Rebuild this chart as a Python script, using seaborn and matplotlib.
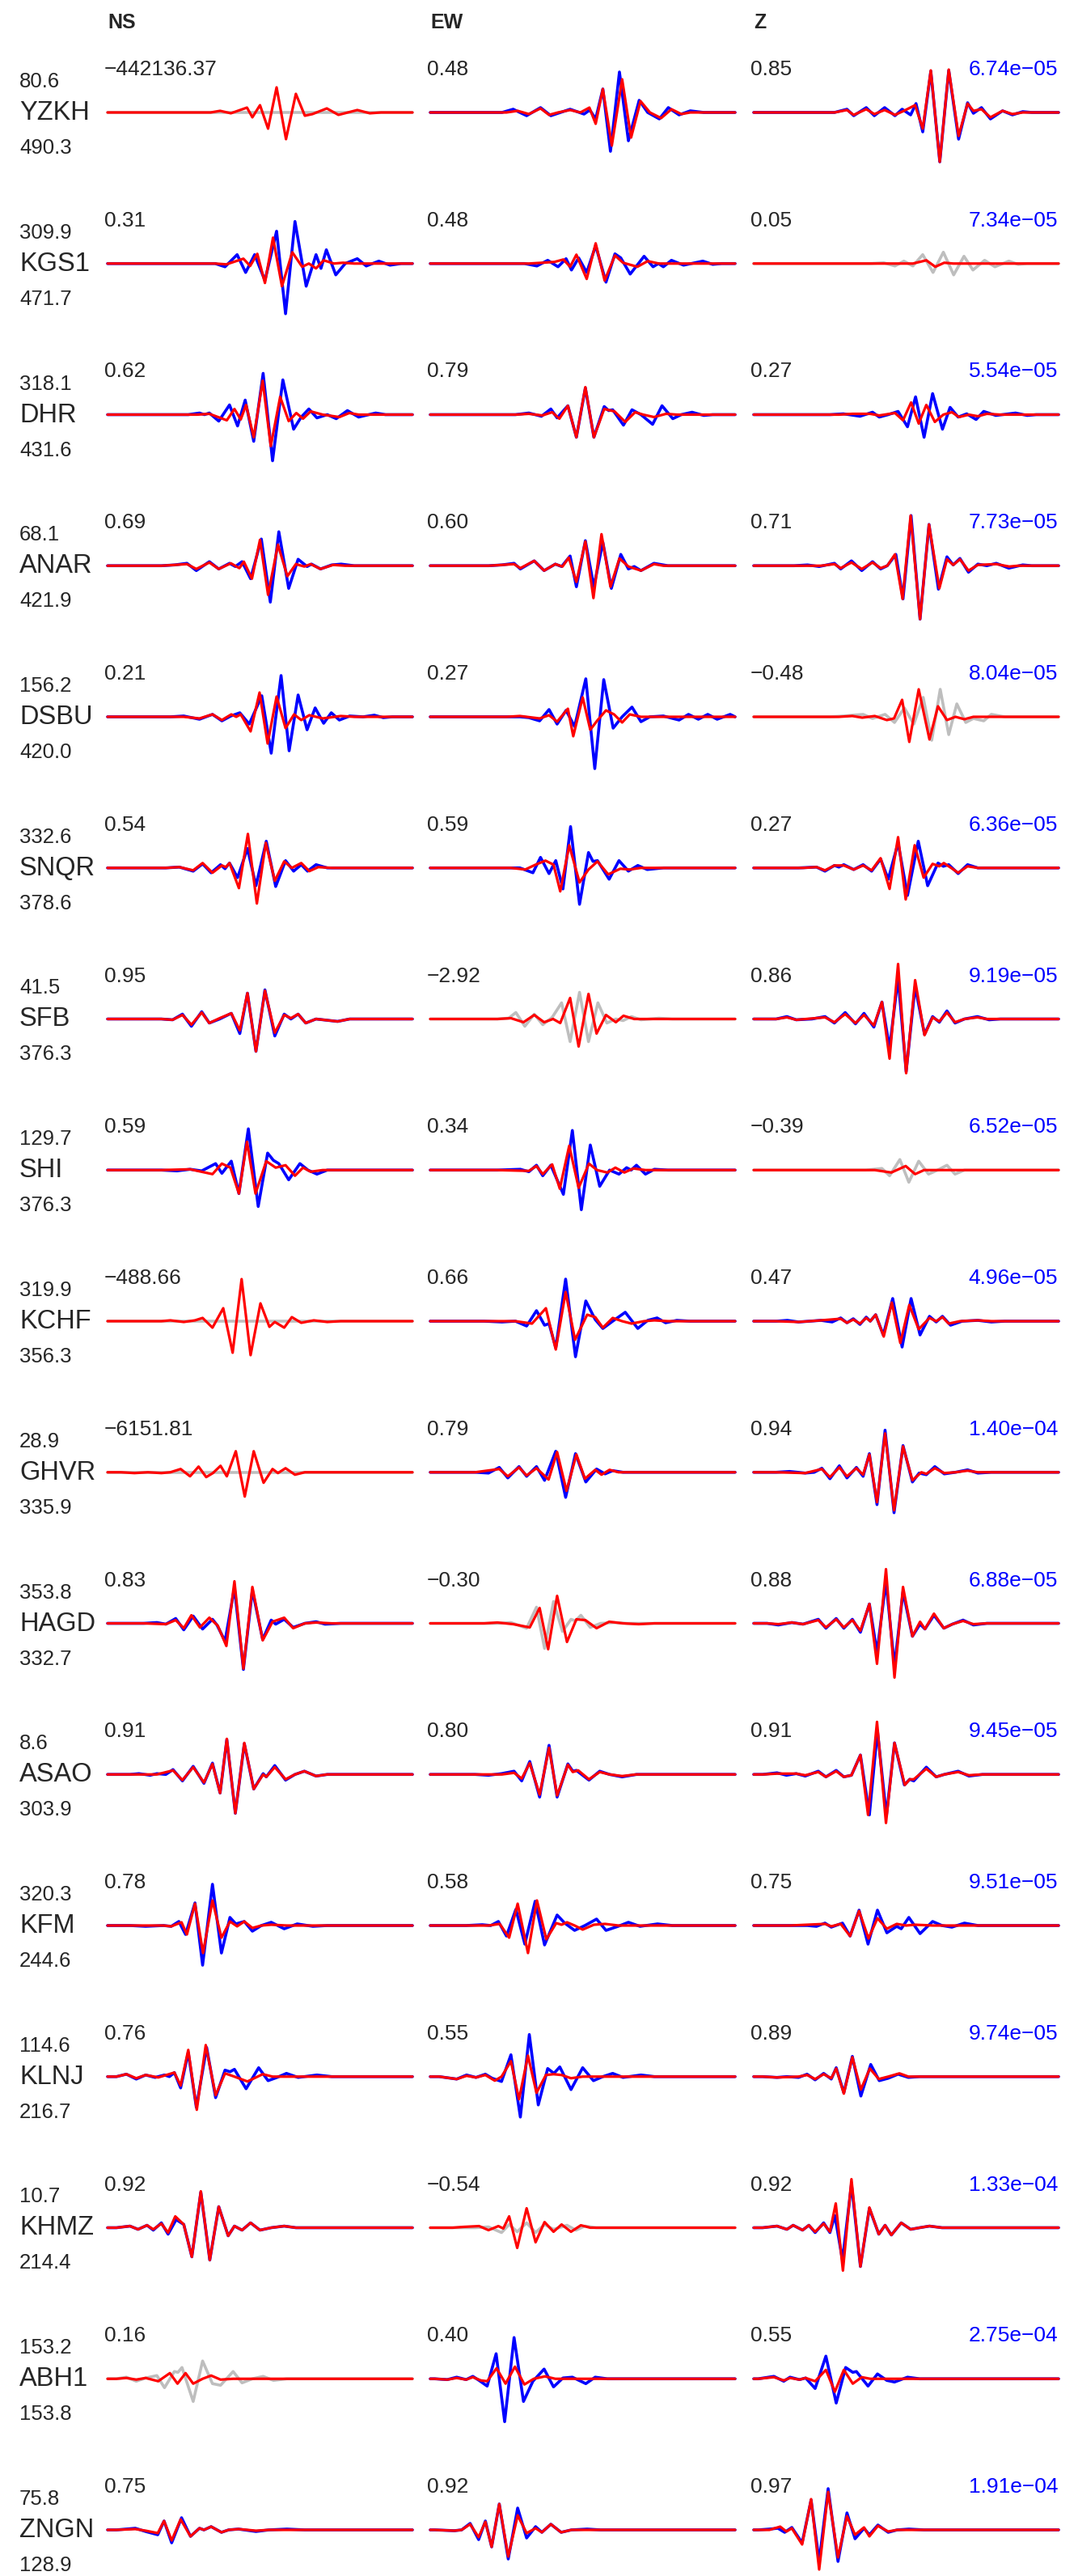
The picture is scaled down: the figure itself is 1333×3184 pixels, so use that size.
import matplotlib
matplotlib.use("Agg")
import matplotlib.pyplot as plt
import pandas as pd
import seaborn as sns

# ---- station table ----
stations = ["YZKH", "KGS1", "DHR", "ANAR", "DSBU", "SNQR", "SFB", "SHI", "KCHF",
            "GHVR", "HAGD", "ASAO", "KFM", "KLNJ", "KHMZ", "ABH1", "ZNGN"]
azimuth = [80.6, 309.9, 318.1, 68.1, 156.2, 332.6, 41.5, 129.7, 319.9,
           28.9, 353.8, 8.6, 320.3, 114.6, 10.7, 153.2, 75.8]
distance = [490.3, 471.7, 431.6, 421.9, 420.0, 378.6, 376.3, 376.3, 356.3,
            335.9, 332.7, 303.9, 244.6, 216.7, 214.4, 153.8, 128.9]
cc_ns = [-442136.37, 0.31, 0.62, 0.69, 0.21, 0.54, 0.95, 0.59, -488.66,
         -6151.81, 0.83, 0.91, 0.78, 0.76, 0.92, 0.16, 0.75]
cc_ew = [0.48, 0.48, 0.79, 0.60, 0.27, 0.59, -2.92, 0.34, 0.66,
         0.79, -0.30, 0.80, 0.58, 0.55, -0.54, 0.40, 0.92]
cc_z = [0.85, 0.05, 0.27, 0.71, -0.48, 0.27, 0.86, -0.39, 0.47,
        0.94, 0.88, 0.91, 0.75, 0.89, 0.92, 0.55, 0.97]
amp_z = [6.74e-05, 7.34e-05, 5.54e-05, 7.73e-05, 8.04e-05, 6.36e-05, 9.19e-05, 6.52e-05, 4.96e-05,
         1.40e-04, 6.88e-05, 9.45e-05, 9.51e-05, 9.74e-05, 1.33e-04, 2.75e-04, 1.91e-04]

# ---- waveform picks: (time s, amplitude) ----
obs_ns = [
    [],  # YZKH
    [(24.0,0),(26.2,-4),(28.9,11),(30.8,-11),(32.8,11),(35.1,-21),(37.7,40),(39.7,-62),(41.8,52),(44.3,-28),(46.5,11),(47.6,-6),(48.8,17),(50.9,-14),(53.0,0),(55.7,6),(57.7,-3),(60.5,3),(63.0,-2),(65.5,0)],
    [(18.0,0),(20.5,2),(21.6,0),(22.7,2),(24.8,-8),(27.2,12),(29.0,-14),(30.7,18),(32.6,-33),(34.7,51),(36.8,-57),(39.1,43),(41.5,-18),(43.2,-3),(44.9,7),(46.7,-4),(49.0,0),(51.0,-5),(53.5,5),(56.0,-3),(59.8,2),(62.0,0)],
    [(12.0,0),(15.0,1),(17.7,3),(19.8,-6),(22.7,5),(24.8,-4),(27.2,3),(28.5,-1),(30.0,5),(31.9,-16),(34.3,33),(36.3,-45),(38.2,42),(40.4,-28),(42.5,8),(44.5,-1),(45.5,2),(47.5,-4),(50.0,1),(52.1,2),(55.0,0)],
    [(14.0,0),(17.0,1),(20.5,-3),(23.4,3),(25.5,-5),(27.5,1),(29.5,5),(31.6,-9),(34.4,26),(36.5,-45),(38.7,51),(40.5,-42),(42.5,27),(44.5,-16),(46.3,11),(48.2,-8),(49.9,5),(51.7,-4),(54.0,1),(57.0,0),(59.5,2),(61.5,-1),(63.5,0)],
    [(13.0,0),(16.0,1),(19.1,-4),(21.2,5),(23.1,-6),(25.2,4),(26.2,-1),(27.2,6),(29.0,-12),(31.2,24),(33.1,-22),(35.4,33),(37.5,-23),(39.7,9),(41.5,-4),(43.2,4),(44.6,-4),(46.5,4),(49.0,0),(53.0,0)],
    [(12.0,0),(14.5,-1),(16.7,6),(18.7,-9),(21.0,9),(22.7,-5),(25.0,0),(27.6,7),(29.5,-18),(31.2,32),(33.1,-40),(35.1,36),(37.3,-21),(39.4,6),(40.9,0),(42.5,6),(44.2,-5),(46.5,0),(51.3,-3),(54.0,0)],
    [(12.0,0),(15.5,-1),(18.4,1),(21.0,-1),(24.1,8),(25.5,-4),(27.6,11),(29.3,-29),(31.4,51),(33.6,-45),(35.7,21),(37.0,12),(38.2,8),(40.4,-12),(42.9,8),(44.7,0),(46.7,-5),(49.0,0),(52.0,0)],
    [],  # KCHF
    [],  # GHVR
    [(8.0,0),(11.0,1),(13.0,-1),(15.2,6),(17.0,-8),(19.1,9),(21.2,-7),(23.4,5),(24.4,-2),(26.2,-22),(28.3,44),(30.3,-57),(32.3,41),(34.6,-20),(36.5,4),(37.5,-1),(39.4,5),(41.4,-5),(44.0,0),(46.5,2),(48.5,-1),(52.0,0)],
    [(5.0,0),(7.0,1),(9.5,-1),(11.0,1),(13.0,0),(14.6,6),(16.7,-8),(19.1,10),(21.5,-11),(23.4,14),(25.1,-23),(26.6,43),(28.5,-48),(30.5,38),(32.6,-18),(34.7,1),(35.4,-3),(37.3,11),(39.7,-7),(41.8,0),(43.9,4),(46.5,-2),(49.0,0)],
    [(5.0,0),(8.5,-1),(12.5,0),(14.2,-1),(15.9,5),(17.4,-11),(19.5,28),(21.2,-49),(23.4,51),(25.4,-34),(27.3,10),(28.6,2),(30.5,5),(32.3,-7),(34.3,0),(36.5,4),(39.4,-4),(42.3,2),(45.8,-1),(49.0,0)],
    [(2.0,0),(4.2,3),(6.4,-3),(8.5,2),(10.6,-1),(12.7,2),(13.8,0),(14.9,5),(16.3,-14),(18.0,30),(19.8,-38),(22.1,36),(24.1,-26),(26.2,8),(27.3,6),(28.3,9),(30.9,-15),(33.7,11),(35.8,-5),(37.8,-1),(39.9,4),(42.5,-1),(46.7,2),(50.0,0)],
    [(2.0,0),(5.0,2),(6.8,-2),(8.8,3),(10.2,-3),(12.0,6),(13.5,-8),(15.3,10),(17.0,4),(18.8,-36),(20.8,44),(22.8,-40),(24.8,26),(26.9,-10),(28.3,2),(30.0,-3),(31.9,6),(34.0,-3),(36.5,0),(39.4,2),(42.0,0)],
    [(2.0,0),(4.2,2),(6.4,-3),(8.5,1),(11.0,4),(12.7,-11),(14.9,9),(15.7,8),(16.6,14),(19.1,-28),(21.2,22),(23.4,-6),(25.2,-8),(28.0,9),(30.0,-5),(32.3,0),(34.7,3),(37.0,-2),(40.0,0)],
    [(2.0,0),(6.2,2),(8.5,-2),(11.2,-6),(12.6,11),(14.3,-16),(16.5,15),(18.5,-8),(20.5,2),(21.5,0),(23.1,4),(25.4,-3),(27.0,0),(29.2,1),(33.1,-2),(36.0,0),(40.0,1),(44.0,0)],
]
syn_ns = [
    [(23.0,0),(25.1,2),(27.5,-1),(31.1,6),(32.3,-6),(34.0,9),(35.8,-20),(37.7,31),(39.8,-33),(42.0,23),(44.0,-4),(45.7,-2),(48.9,5),(51.5,-3),(55.7,3),(58.5,-1),(61.0,0)],
    [(24.0,0),(26.5,-1),(30.3,6),(31.8,-3),(33.4,12),(35.1,-24),(36.9,32),(38.9,-28),(41.2,14),(43.4,-4),(44.9,0),(46.5,-6),(48.2,4),(50.5,0),(52.5,1),(55.0,0)],
    [(20.0,0),(22.7,1),(26.6,-7),(28.3,7),(29.7,-6),(30.9,12),(32.6,-28),(34.6,42),(36.4,-39),(38.5,22),(40.4,-8),(42.1,2),(43.6,-5),(45.3,4),(48.0,0),(51.7,-3),(53.9,2),(56.0,0)],
    [(12.0,0),(15.0,1),(17.7,2),(19.8,-4),(22.7,4),(24.8,-4),(27.5,3),(29.4,-3),(30.4,5),(32.2,-16),(34.0,32),(35.8,-36),(38.0,26),(40.1,-13),(42.0,2),(43.9,-1),(45.3,2),(47.5,-4),(50.3,1),(53.0,0)],
    [(17.0,0),(20.5,-2),(23.4,3),(25.5,-4),(27.6,3),(28.7,0),(29.7,3),(31.9,-18),(33.9,30),(35.7,-33),(37.7,25),(39.7,-14),(41.6,3),(43.2,-4),(45.0,2),(48.0,-2),(52.0,1),(55.0,0)],
    [(13.0,0),(16.0,1),(19.1,-3),(21.2,6),(23.4,-6),(25.5,3),(26.4,1),(27.2,6),(29.3,-25),(31.3,42),(33.3,-44),(35.3,31),(37.3,-16),(39.4,8),(41.1,0),(43.2,6),(45.0,-4),(47.0,1),(50.0,0)],
    [(12.0,0),(14.5,-1),(16.7,5),(18.7,-7),(21.0,8),(22.7,-5),(25.0,1),(27.6,7),(29.5,-14),(31.2,32),(33.1,-40),(35.1,35),(37.3,-17),(39.4,5),(40.9,1),(42.5,6),(44.2,-5),(46.5,0),(51.3,-3),(54.0,0)],
    [(12.0,0),(18.4,1),(23.4,-5),(25.5,8),(27.4,3),(29.3,-29),(31.1,35),(33.0,-29),(35.4,11),(37.5,3),(39.7,6),(41.8,-7),(43.6,3),(45.3,-2),(48.0,0)],
    [(12.0,0),(14.0,1),(17.0,-1),(19.5,1),(21.2,4),(23.4,-8),(25.8,16),(27.9,-39),(29.9,52),(31.9,-42),(34.1,22),(36.1,-7),(37.3,-1),(39.4,-8),(41.1,5),(43.2,-2),(46.0,1),(49.0,-1),(52.0,0)],
    [(3.0,0),(6.0,-1),(9.0,0),(12.0,-1),(14.0,0),(16.3,4),(18.4,-5),(20.3,7),(22.0,-6),(23.5,-1),(25.2,8),(26.6,-5),(28.6,26),(30.6,-30),(32.6,26),(34.8,-13),(36.8,4),(38.0,-1),(39.7,5),(41.8,-3),(44.0,0),(47.0,0)],
    [(8.0,0),(13.0,-1),(15.2,4),(17.0,-6),(18.7,10),(20.6,-5),(22.7,7),(24.6,-3),(26.5,-28),(28.3,52),(30.3,-56),(32.3,45),(34.6,-21),(36.8,2),(39.4,7),(41.4,-6),(44.0,0),(46.5,1),(50.0,0)],
    [(5.0,0),(11.0,0),(14.6,5),(16.7,-7),(19.1,9),(21.5,-10),(23.4,13),(25.1,-23),(26.6,44),(28.5,-48),(30.5,39),(32.6,-18),(34.7,0),(35.4,-3),(37.3,9),(39.7,-6),(41.8,0),(43.9,4),(46.5,-2),(49.0,0)],
    [(5.0,0),(12.5,0),(14.2,-1),(16.5,4),(17.7,-11),(19.5,27),(21.3,-34),(23.4,31),(25.4,-15),(27.3,5),(28.9,-1),(30.5,5),(32.3,-3),(34.3,0),(36.5,1),(40.0,0)],
    [(2.0,0),(4.2,3),(6.4,-2),(8.5,2),(11.3,-1),(14.9,5),(16.3,-11),(18.0,33),(19.9,-41),(21.9,39),(24.1,-23),(26.2,4),(28.3,0),(31.2,-6),(34.6,3),(36.8,0),(40.0,0)],
    [(2.0,0),(5.0,2),(6.8,-2),(8.8,3),(10.2,-2),(12.0,5),(13.5,-6),(15.1,14),(17.0,4),(18.8,-36),(20.8,45),(22.8,-40),(24.8,26),(26.9,-10),(28.3,2),(30.0,-3),(31.9,6),(34.0,-3),(36.5,0),(39.4,2),(42.0,0)],
    [(2.0,0),(4.2,1),(6.4,-1),(8.5,1),(11.3,-3),(13.9,7),(15.6,-6),(17.4,7),(19.1,-6),(21.2,0),(23.1,4),(25.2,-1),(28.0,0)],
    [(2.0,0),(6.2,1),(8.5,-1),(11.2,-4),(12.6,11),(14.3,-13),(16.3,13),(18.5,-8),(20.5,2),(21.5,0),(23.1,4),(25.4,-3),(27.0,0),(29.2,1),(33.1,-1),(36.0,0)],
]
obs_ew = [
    [(16.0,0),(18.5,4),(21.5,-4),(24.6,6),(26.9,-4),(31.2,4),(34.3,-2),(35.6,3),(36.9,-8),(38.5,29),(40.2,-48),(42.2,50),(44.2,-35),(46.6,15),(48.5,0),(51.1,-8),(53.1,6),(55.5,-3),(58.0,2),(61.0,0)],
    [(21.0,0),(23.8,-3),(26.2,4),(28.5,-4),(30.3,6),(31.5,-8),(33.1,7),(34.9,-11),(36.9,22),(39.2,-23),(41.2,12),(42.5,7),(44.6,-13),(47.7,9),(49.7,-4),(50.9,0),(52.0,-4),(53.8,4),(56.5,-2),(60.8,3),(63.0,-1),(65.0,0)],
    [(19.0,0),(22.0,2),(24.8,-2),(26.9,7),(28.3,-4),(30.7,11),(32.6,-28),(34.6,33),(36.5,-28),(38.8,10),(39.8,5),(40.7,6),(43.1,-13),(45.0,6),(47.0,0),(49.6,-12),(51.7,11),(54.1,-5),(56.0,0),(58.4,3),(61.0,-1),(63.0,0)],
    [(13.0,0),(16.0,1),(18.7,3),(20.1,-4),(23.2,6),(25.4,-6),(27.9,2),(29.3,-1),(31.2,12),(32.6,-26),(34.6,31),(36.5,-26),(38.5,29),(40.4,-28),(42.5,14),(44.2,-4),(45.5,-1),(47.0,-6),(49.9,3),(53.0,0)],
    [(20.0,0),(22.0,-1),(24.4,-5),(26.5,9),(28.3,-9),(30.3,8),(32.2,-12),(34.7,47),(36.7,-64),(38.7,46),(40.8,-14),(42.8,0),(45.0,12),(47.0,-6),(49.0,0),(52.0,1),(55.5,-4),(57.6,3),(59.8,-3),(61.9,3),(64.0,-3),(66.9,3)],
    [(20.0,0),(22.9,-6),(24.6,13),(26.5,-7),(28.0,9),(29.6,-26),(31.3,51),(33.3,-45),(35.3,19),(36.3,8),(37.3,9),(39.9,-14),(42.1,9),(44.2,-4),(46.3,3),(48.4,-2),(52.0,0)],
    [(15.0,0),(17.5,1),(19.1,8),(21.1,-9),(23.2,6),(25.1,-7),(27.2,2),(29.3,20),(31.2,-28),(33.3,33),(35.3,-28),(37.4,20),(39.4,-5),(41.4,0),(43.0,-2),(44.9,3),(47.0,-1),(51.0,1),(54.0,0)],
    [(15.0,0),(20.1,1),(22.0,-2),(23.7,6),(25.1,-7),(26.9,6),(29.7,-30),(31.7,49),(33.7,-49),(35.7,31),(37.8,-20),(40.0,0),(42.1,-5),(43.8,3),(44.8,0),(46.0,6),(48.0,-5),(50.0,1),(53.0,0)],
    [(12.0,0),(16.0,-1),(19.0,0),(21.5,-6),(23.7,13),(25.5,-5),(26.5,-3),(28.0,-33),(30.2,52),(32.4,-44),(34.7,25),(36.8,2),(38.5,-9),(40.7,0),(43.5,11),(46.3,-9),(48.5,1),(50.6,4),(52.5,-2),(55.0,1),(58.0,0)],
    [(10.0,0),(13.0,-1),(15.4,6),(17.3,-7),(19.8,7),(21.5,-5),(23.7,7),(25.5,-10),(28.0,26),(30.2,-31),(32.4,23),(34.7,-12),(37.1,4),(39.0,-2),(40.7,2),(43.0,0),(47.0,0)],
    [(15.0,0),(18.0,1),(21.5,-6),(23.7,20),(25.5,-31),(27.5,27),(29.5,-10),(31.4,5),(32.4,3),(33.6,10),(35.7,-5),(38.0,0),(41.0,1),(44.0,0)],
    [(10.0,0),(13.0,-1),(15.9,1),(18.7,4),(20.4,-8),(22.2,16),(24.4,-28),(26.5,36),(28.3,-28),(30.7,13),(31.8,4),(32.6,5),(35.4,-7),(37.8,4),(40.0,0),(42.8,-3),(46.0,0)],
    [(8.0,0),(11.6,1),(13.5,0),(15.2,5),(17.0,-13),(19.1,20),(21.1,-23),(23.4,30),(25.5,-24),(28.3,13),(30.0,3),(32.2,-6),(34.5,0),(37.1,8),(39.2,-6),(41.9,-1),(44.2,4),(46.8,-1),(50.7,2),(54.0,0)],
    [(2.0,0),(5.9,-3),(8.1,2),(10.2,-1),(12.3,3),(13.8,-2),(15.9,-6),(18.0,27),(20.1,-50),(22.1,52),(24.1,-35),(26.2,10),(27.6,4),(28.9,12),(31.4,-16),(34.0,11),(36.4,-5),(38.5,0),(40.7,4),(43.0,-1),(47.0,2),(50.0,0)],
    [(10.0,0),(13.0,1),(15.9,-6),(17.6,4),(19.4,-5),(21.5,6),(23.5,-6),(25.5,4),(27.5,-2),(30.5,3),(32.5,-3),(34.5,2),(37.0,0)],
    [(1.0,0),(3.8,-1),(5.9,2),(8.0,-1),(9.5,3),(10.9,-2),(12.7,-9),(14.7,31),(16.6,-53),(18.7,51),(20.8,-28),(22.9,-3),(25.4,12),(27.5,-10),(29.6,1),(31.7,2),(34.7,-6),(36.8,2),(39.5,0)],
    [(1.0,0),(5.4,-1),(7.0,0),(8.9,8),(10.8,-12),(12.3,11),(13.7,-21),(15.4,32),(17.4,-36),(19.5,27),(21.5,-10),(23.5,4),(24.9,-3),(26.9,7),(29.2,-3),(31.5,0),(35.0,1),(38.0,0)],
]
syn_ew = [
    [(17.0,0),(19.5,2),(22.0,-2),(24.6,5),(26.5,-3),(28.5,0),(31.2,3),(33.5,0),(35.5,6),(36.9,-14),(38.5,29),(40.5,-41),(42.8,41),(44.8,-31),(46.9,14),(49.0,0),(51.5,-7),(53.8,4),(56.0,-2),(58.0,0)],
    [(22.0,0),(25.0,1),(27.7,2),(29.7,5),(31.2,-4),(32.6,11),(34.9,-19),(36.9,25),(38.9,-21),(41.2,10),(43.0,1),(46.2,-4),(48.5,3),(51.0,0)],
    [(19.0,0),(22.0,1),(25.0,-1),(27.2,3),(28.8,-5),(30.7,11),(32.6,-28),(34.6,34),(36.5,-28),(38.8,7),(41.1,4),(43.5,-9),(45.7,3),(47.5,0),(49.9,-3),(52.6,1),(55.0,0)],
    [(13.0,0),(16.0,1),(18.7,2),(20.1,-3),(23.2,6),(25.4,-6),(27.9,2),(29.5,-1),(30.9,10),(32.6,-20),(34.6,30),(36.4,-40),(38.2,39),(40.2,-26),(42.2,9),(44.2,-1),(47.0,-6),(49.9,2),(52.0,0)],
    [(17.0,0),(20.0,1),(24.4,-2),(26.5,2),(28.3,-6),(30.7,10),(31.9,-24),(34.0,24),(35.7,-16),(37.2,-5),(39.2,8),(41.0,3),(42.8,-7),(44.5,3),(47.0,0),(51.0,0)],
    [(18.0,0),(21.2,-2),(23.5,4),(25.7,9),(27.5,4),(29.0,-29),(31.0,28),(33.3,-18),(35.3,-2),(37.3,8),(39.7,-8),(42.4,-1),(44.5,-2),(47.0,0)],
    [(15.0,0),(18.0,1),(20.8,-4),(23.2,5),(25.4,-4),(27.4,0),(29.0,-5),(31.2,26),(33.1,-34),(35.3,31),(37.1,-18),(39.2,5),(41.4,-4),(43.1,4),(45.5,0)],
    [(15.0,0),(22.0,-1),(23.7,5),(25.1,-5),(27.2,7),(28.9,-23),(31.0,30),(33.1,-22),(35.4,8),(37.2,0),(39.5,-3),(41.3,3),(43.3,-3),(45.3,2),(48.0,0)],
    [(12.0,0),(19.0,0),(22.7,-3),(25.8,16),(28.0,-35),(30.2,36),(32.3,-23),(35.0,8),(36.8,5),(38.5,-8),(40.7,4),(42.8,0),(44.9,-3),(47.7,0),(50.0,1),(53.0,0)],
    [(10.0,0),(15.4,4),(17.3,-5),(19.8,6),(21.5,-4),(23.7,5),(26.4,-9),(28.3,25),(30.4,-23),(32.6,22),(34.5,-8),(36.8,3),(38.2,-3),(40.0,3),(42.0,0),(45.0,0)],
    [(12.0,0),(15.0,1),(18.5,-1),(22.2,-5),(24.4,19),(26.3,-32),(28.3,34),(30.5,-23),(32.6,5),(34.6,4),(37.1,-6),(39.9,2),(43.0,0),(46.5,-1),(50.0,0)],
    [(10.0,0),(16.0,0),(18.7,2),(20.4,-5),(22.2,14),(24.4,-25),(26.5,33),(28.3,-26),(30.7,12),(31.8,3),(33.0,5),(35.4,-6),(37.8,3),(40.0,0),(42.8,-2),(46.0,0)],
    [(8.0,0),(13.0,0),(15.5,2),(17.6,-15),(19.5,27),(21.8,-34),(23.8,31),(25.9,-17),(28.1,3),(29.3,1),(30.5,4),(32.2,0),(34.0,-5),(36.5,1),(39.0,2),(42.0,0)],
    [(2.0,0),(5.9,-3),(8.1,1),(10.2,-1),(12.3,2),(14.4,-5),(15.9,0),(18.0,19),(19.8,-28),(21.8,26),(23.7,-20),(25.8,2),(27.5,3),(29.3,2),(31.4,-2),(34.0,0),(36.4,0)],
    [(5.0,0),(7.4,1),(10.9,2),(13.0,-3),(15.2,2),(16.3,-1),(17.6,14),(19.4,-25),(21.5,24),(23.5,-18),(25.5,7),(27.5,-5),(29.3,4),(31.4,-5),(33.6,3),(35.7,0),(38.0,0)],
    [(1.0,0),(3.8,-1),(5.9,1),(8.0,-1),(9.5,2),(11.3,-2),(12.7,-3),(14.8,13),(16.8,-6),(18.9,15),(21.0,-7),(23.1,0),(25.6,3),(27.9,0),(31.0,0)],
    [(1.0,0),(5.4,-1),(7.0,0),(8.9,7),(10.8,-9),(12.3,10),(13.7,-21),(15.4,32),(17.4,-33),(19.5,18),(21.5,-4),(23.5,2),(24.9,-3),(26.9,7),(29.2,-3),(31.5,0),(35.0,0)],
]
obs_z = [
    [(18.0,0),(20.8,4),(22.3,-4),(25.1,6),(26.9,-4),(29.2,6),(31.5,-4),(33.1,4),(35.0,-3),(36.2,11),(37.7,-24),(39.5,51),(41.5,-61),(43.5,52),(45.7,-33),(47.7,12),(49.0,-1),(50.8,6),(52.8,-8),(55.5,2),(57.7,-3),(60.0,1),(62.0,0)],
    [(26.0,0),(29.0,1),(31.5,-3),(33.5,3),(35.5,-3),(37.7,11),(40.0,-11),(42.3,14),(44.6,-14),(46.9,9),(48.9,-8),(51.5,4),(53.8,-4),(56.9,3),(59.0,-1),(61.0,0)],
    [(17.0,0),(20.0,1),(23.7,-2),(26.5,3),(28.0,-3),(30.0,0),(32.2,4),(34.3,-15),(36.1,22),(38.0,-28),(39.9,26),(42.1,-18),(43.8,9),(45.6,-3),(47.5,1),(49.6,-6),(51.3,4),(54.0,-1),(58.4,2),(61.0,-1),(63.0,0)],
    [(9.0,0),(12.0,1),(14.6,-1),(18.0,3),(19.4,-4),(21.8,6),(24.1,-6),(26.5,5),(28.3,-4),(29.8,0),(31.7,14),(33.3,-41),(35.1,62),(37.1,-66),(39.1,51),(41.2,-29),(43.1,11),(44.5,1),(46.0,9),(47.9,-8),(50.0,2),(52.0,0),(54.1,3),(56.9,-3),(60.0,1),(62.0,0)],
    [(17.0,0),(20.0,1),(24.4,3),(26.5,-2),(29.3,3),(31.4,-7),(33.6,11),(35.7,-9),(37.8,24),(39.7,-29),(41.6,34),(43.5,-22),(45.3,16),(47.3,-7),(49.0,-2),(51.3,-5),(53.0,3),(56.0,0)],
    [(10.0,0),(14.0,1),(15.9,-4),(18.0,3),(19.0,1),(20.1,4),(22.3,-2),(24.4,4),(26.3,-4),(28.3,11),(30.0,-14),(32.2,31),(34.3,-34),(36.7,33),(38.8,-22),(41.1,6),(42.3,2),(43.5,4),(45.6,-7),(47.7,4),(50.0,0)],
    [(5.0,0),(7.4,3),(9.5,-1),(13.0,0),(15.9,3),(18.0,-5),(20.4,8),(22.7,-6),(24.6,7),(26.8,-10),(28.6,21),(30.3,-36),(32.2,51),(34.0,-65),(36.0,40),(38.1,-19),(39.9,3),(41.4,-4),(43.1,10),(44.9,-5),(47.0,0),(49.9,3),(52.5,-1),(55.0,0)],
    [(25.0,0),(28.6,2),(30.3,-7),(32.6,13),(34.6,-15),(36.8,11),(39.0,-5),(41.0,0),(43.1,6),(44.9,-5),(47.0,0),(50.0,0)],
    [(5.0,0),(7.5,1),(10.0,-1),(12.5,0),(15.0,1),(17.5,-1),(19.4,4),(20.8,-2),(22.2,3),(23.7,-4),(25.1,5),(26.0,0),(27.2,8),(28.9,-17),(31.0,28),(33.1,-32),(35.1,28),(37.1,-17),(39.2,6),(40.7,-1),(42.1,6),(43.9,-5),(46.5,0),(50.0,1),(53.0,-1),(56.0,0)],
    [(5.0,0),(8.0,1),(11.5,-1),(13.5,0),(15.2,5),(17.0,-8),(19.1,8),(20.8,-7),(22.9,6),(24.4,-5),(25.8,23),(27.5,-40),(29.3,52),(31.3,-50),(33.3,33),(35.4,-12),(36.9,-1),(38.5,-3),(40.4,7),(42.5,-2),(45.0,0),(47.7,3),(50.0,-1),(53.0,0)],
    [(3.0,0),(5.5,-2),(8.5,1),(11.0,-1),(14.4,5),(16.1,-6),(18.4,6),(20.1,-6),(22.0,5),(23.8,-11),(25.8,24),(27.5,-36),(29.5,52),(31.4,-53),(33.3,39),(35.4,-16),(37.1,-1),(38.2,-7),(40.2,10),(42.4,-6),(44.3,-1),(46.7,4),(49.0,-2),(52.0,0)],
    [(2.0,0),(5.2,2),(7.3,-1),(9.5,1),(11.5,-2),(14.4,4),(16.1,-3),(18.4,5),(20.1,-3),(21.8,-1),(23.8,24),(25.8,-50),(27.6,54),(29.6,-51),(31.4,39),(33.6,-13),(34.8,-6),(35.7,-8),(38.5,9),(40.7,-3),(42.5,0),(45.6,4),(48.0,-2),(51.0,0)],
    [(8.0,0),(12.0,0),(14.0,-1),(15.9,3),(17.3,-2),(19.8,3),(21.5,-13),(23.5,19),(25.5,-23),(27.6,19),(29.7,-9),(31.9,-1),(32.9,-4),(34.6,10),(37.1,-10),(39.9,5),(42.0,0),(44.2,-2),(47.0,3),(50.0,0)],
    [(2.0,0),(5.2,-1),(7.4,0),(10.0,-1),(11.9,3),(13.7,-4),(15.6,4),(17.3,-3),(18.4,11),(20.1,-20),(22.0,25),(23.9,-24),(26.1,15),(28.0,-5),(30.0,-2),(32.2,3),(34.5,-1),(37.0,0)],
    [(2.0,0),(5.2,2),(7.4,-2),(8.8,3),(10.9,-3),(12.3,3),(13.7,-6),(15.6,6),(17.0,-6),(18.1,15),(19.8,-40),(21.8,54),(23.8,-48),(25.8,24),(27.9,-8),(29.3,3),(30.7,-9),(32.9,6),(35.0,-2),(37.0,0),(39.2,2),(42.0,0)],
    [(1.0,0),(4.5,3),(6.7,-3),(8.1,2),(10.2,-1),(11.6,1),(13.7,-12),(16.1,28),(18.4,-30),(20.5,14),(22.1,8),(22.9,9),(25.5,-9),(27.6,6),(29.7,-2),(31.4,-4),(34.3,2),(37.0,0)],
    [(1.0,0),(3.5,1),(5.4,2),(6.9,-3),(8.5,3),(10.8,-16),(12.8,37),(14.6,-39),(16.6,51),(18.8,-39),(20.8,21),(22.6,-11),(24.6,2),(25.8,-6),(27.7,6),(30.0,-3),(32.0,0),(34.6,1),(38.0,0)],
]
syn_z = [
    [(18.0,0),(20.8,3),(22.3,-3),(25.1,4),(26.9,-2),(29.2,3),(31.5,-3),(33.5,2),(36.0,9),(37.7,-20),(39.5,52),(41.5,-61),(43.5,53),(45.7,-29),(47.7,11),(49.0,2),(50.8,4),(52.8,-6),(55.5,2),(57.7,-2),(60.0,0)],
    [(35.5,0),(38.5,4),(40.5,-4),(42.5,1),(44.5,0)],
    [(19.0,0),(22.0,1),(26.0,1),(28.0,-1),(31.5,2),(33.3,-7),(35.1,15),(36.8,-11),(38.5,12),(40.4,-9),(42.3,0),(44.2,3),(45.8,-3),(48.0,0),(50.0,-2),(52.0,1),(55.0,0)],
    [(15.0,0),(18.0,2),(19.4,-3),(21.8,4),(24.1,-4),(26.5,4),(28.3,-3),(29.8,0),(31.5,14),(33.2,-41),(35.0,62),(37.1,-66),(39.1,51),(41.4,-28),(43.1,8),(44.5,1),(46.0,8),(47.9,-6),(50.0,1),(54.1,2),(57.0,-1),(59.0,0)],
    [(19.0,0),(22.0,1),(24.2,-1),(27.0,1),(29.7,-4),(31.3,-2),(33.1,21),(34.7,-31),(36.8,34),(39.2,-28),(41.1,13),(43.1,-4),(45.0,0),(47.0,-3),(49.0,0)],
    [(11.0,0),(14.0,1),(15.9,-3),(18.0,3),(20.1,3),(22.3,-2),(24.4,3),(26.3,-3),(28.3,12),(30.3,-26),(32.2,38),(33.9,-39),(35.9,28),(37.9,-12),(39.9,5),(41.4,2),(42.4,6),(44.3,-1),(45.6,-6),(47.7,2),(50.0,0)],
    [(5.0,0),(7.4,2),(9.5,-1),(15.9,2),(18.0,-4),(20.4,6),(22.7,-5),(24.6,5),(26.8,-8),(28.6,21),(30.3,-49),(32.2,68),(34.0,-67),(36.0,48),(38.1,-20),(39.9,2),(41.4,-3),(43.1,8),(44.9,-4),(47.0,0),(49.9,2),(52.0,0)],
    [(27.0,0),(30.7,-3),(33.9,5),(36.0,-5),(38.0,0)],
    [(5.0,0),(10.0,-1),(15.0,1),(19.4,3),(20.8,-2),(22.2,2),(23.7,-3),(25.1,4),(26.0,0),(27.2,8),(29.0,-19),(30.8,23),(32.7,-27),(34.7,20),(36.8,-10),(39.2,4),(40.7,0),(42.1,5),(43.5,-3),(46.0,0),(50.0,1),(53.0,0)],
    [(5.0,0),(11.5,-1),(15.2,4),(17.0,-6),(19.1,6),(20.8,-5),(22.9,5),(24.4,-3),(25.8,22),(27.5,-37),(29.3,48),(31.3,-47),(33.3,32),(35.4,-10),(37.4,0),(38.5,-2),(40.4,5),(42.5,-1),(45.0,0),(47.7,2),(50.0,0)],
    [(3.0,0),(5.5,-1),(8.5,1),(11.0,-1),(14.4,4),(16.1,-5),(18.4,5),(20.1,-5),(22.0,4),(23.8,-9),(25.8,24),(27.5,-50),(29.5,67),(31.4,-67),(33.3,45),(35.4,-16),(37.1,2),(38.2,-7),(40.2,12),(42.4,-6),(44.3,-1),(46.7,3),(49.0,-1),(52.0,0)],
    [(2.0,0),(5.2,1),(9.5,1),(11.5,-1),(14.4,3),(16.1,-3),(18.4,4),(20.1,-3),(21.8,-1),(23.8,24),(25.5,-50),(27.5,65),(29.5,-60),(31.4,39),(33.7,-13),(34.8,-6),(35.7,-6),(38.5,7),(40.7,-3),(42.5,0),(45.6,3),(48.0,-1),(51.0,0)],
    [(8.0,0),(15.9,2),(17.3,-1),(19.4,2),(21.5,-13),(23.5,18),(25.6,-16),(27.6,9),(29.7,-4),(31.9,2),(34.0,0),(36.0,1),(40.0,0)],
    [(2.0,0),(5.2,-1),(10.0,0),(11.9,2),(13.7,-3),(15.6,3),(17.3,-2),(18.4,10),(20.1,-21),(22.0,24),(23.9,-16),(25.9,10),(27.9,-3),(30.0,0),(32.5,4),(34.5,0)],
    [(2.0,0),(5.2,2),(7.4,-2),(8.8,3),(10.9,-3),(12.3,3),(13.7,-5),(15.6,5),(17.0,-5),(18.3,30),(19.9,-53),(21.8,60),(23.8,-48),(25.8,25),(27.9,-8),(29.3,3),(30.7,-9),(32.9,6),(35.0,-2),(37.0,0),(39.2,2),(42.0,0)],
    [(1.0,0),(4.5,2),(6.7,-2),(8.1,1),(10.2,-1),(11.6,1),(13.7,-3),(16.1,11),(18.1,-16),(20.1,11),(22.1,-6),(24.1,2),(26.0,0),(28.0,0)],
    [(1.0,0),(3.5,0),(5.9,4),(7.3,-2),(8.5,2),(10.8,-18),(12.8,38),(14.6,-49),(16.6,47),(18.8,-34),(20.8,17),(22.6,-6),(24.6,3),(25.8,-8),(27.7,5),(30.0,-2),(32.0,0),(36.0,0)],
]

components = ["NS", "EW", "Z"]
obs_all = [obs_ns, obs_ew, obs_z]
syn_all = [syn_ns, syn_ew, syn_z]
cc_all = [cc_ns, cc_ew, cc_z]

T_END = 68.0      # seconds shown in each panel
CC_GREY = 0.2     # below this the observed trace is drawn grey


def trace_frame(picks):
    t = [0.0] + [p[0] for p in picks] + [T_END]
    a = [0.0] + [p[1] for p in picks] + [0.0]
    return pd.DataFrame({"t": t, "amp": a})


def fmt(s):
    return s.replace("-", "\u2212")


sns.set_theme(style="white")
plt.rcParams["font.family"] = ["Liberation Sans", "DejaVu Sans"]

W, H = 1333, 3184
fig = plt.figure(figsize=(W / 100, H / 100), dpi=100, facecolor="white")

col_left = [133, 532, 932]
col_w = 377
row0 = 139
row_step = 186.75
half = row_step / 2


def fx(px):
    return px / W


def fy(py):
    return 1 - py / H


for j, comp in enumerate(components):
    fig.text(fx(col_left[j]), fy(35), comp, ha="left", va="baseline",
             fontsize=18, fontweight="bold")

for i, sta in enumerate(stations):
    base = row0 + row_step * i
    fig.text(fx(24), fy(base - 31), f"{azimuth[i]:.1f}", fontsize=18.5, va="baseline")
    fig.text(fx(24), fy(base + 9), sta, fontsize=23.5, va="baseline")
    fig.text(fx(24), fy(base + 51), f"{distance[i]:.1f}", fontsize=18.5, va="baseline")

    for j in range(3):
        ax = fig.add_axes([fx(col_left[j]), fy(base + half), col_w / W, 2 * half / H])
        ax.set_xlim(0, T_END)
        ax.set_ylim(-half, half)
        ax.axis("off")

        cc = cc_all[j][i]
        obs_color = "#BEBEBE" if cc < CC_GREY else "#0000FF"
        sns.lineplot(data=trace_frame(obs_all[j][i]), x="t", y="amp", ax=ax,
                     color=obs_color, linewidth=2.6, estimator=None, sort=False,
                     legend=False, clip_on=False, solid_joinstyle="round")
        sns.lineplot(data=trace_frame(syn_all[j][i]), x="t", y="amp", ax=ax,
                     color="#FF0000", linewidth=2.3, estimator=None, sort=False,
                     legend=False, clip_on=False, solid_joinstyle="round")

        fig.text(fx(col_left[j] - 4), fy(base - 46), fmt(f"{cc:.2f}"),
                 fontsize=19, va="baseline", ha="left")
        if j == 2:
            fig.text(fx(col_left[j] + col_w - 1), fy(base - 46), fmt(f"{amp_z[i]:.2e}"),
                     fontsize=19, va="baseline", ha="right", color="#0000FF")

fig.savefig("out.png", dpi=100, facecolor="white")
